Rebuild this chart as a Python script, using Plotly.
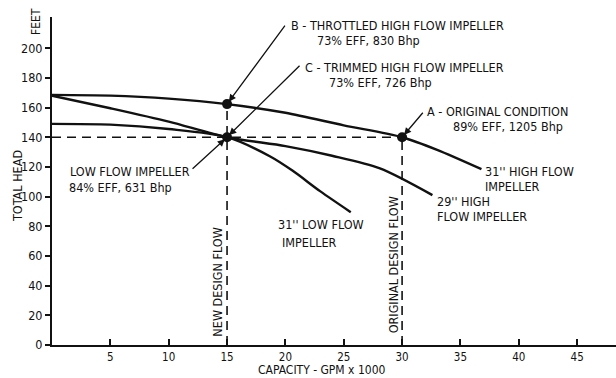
import plotly.graph_objects as go

# Pump head-capacity curves (capacity in GPM x 1000, total head in feet)
flow_31_high = [0, 5, 10, 15, 20, 25, 30, 33, 36.8]
head_31_high = [168.5, 168, 166, 162.3, 156.5, 148, 140, 131.5, 118.5]

flow_29_high = [0, 5, 10, 15, 20, 24, 28.1, 32.6]
head_29_high = [168, 159.5, 150.5, 140, 134, 127.5, 119, 101]

flow_31_low = [0, 5, 10, 15, 18.7, 20.6, 23, 25.6]
head_31_low = [149, 148.5, 145.5, 140, 127, 117.5, 103.5, 89.5]

# Operating points
point_labels = ["A", "B", "C"]
point_flow = [30, 15, 15]
point_head = [140, 162.3, 140]

x_ticks = [5, 10, 15, 20, 25, 30, 35, 40, 45]
y_ticks = [0, 20, 40, 60, 80, 100, 120, 140, 160, 180, 200]

FONT = "Liberation Sans Narrow, DejaVu Sans Condensed, Arial Narrow, sans-serif"
INK = "#111111"

fig = go.Figure()

curve_style = dict(mode="lines", line=dict(color=INK, width=2.4, shape="spline", smoothing=0.8),
                   hoverinfo="skip", showlegend=False)
fig.add_trace(go.Scatter(x=flow_31_high, y=head_31_high, **curve_style))
fig.add_trace(go.Scatter(x=flow_29_high, y=head_29_high, **curve_style))
fig.add_trace(go.Scatter(x=flow_31_low, y=head_31_low, **curve_style))

# Design-flow guide lines
pa, pb, pc = 0, 1, 2
dash_style = dict(mode="lines", line=dict(color=INK, width=1.6, dash="9px,6px"),
                  hoverinfo="skip", showlegend=False)
fig.add_trace(go.Scatter(x=[0, point_flow[pa]], y=[point_head[pa], point_head[pa]], **dash_style))
fig.add_trace(go.Scatter(x=[point_flow[pb], point_flow[pb]], y=[0, point_head[pb]], **dash_style))
fig.add_trace(go.Scatter(x=[point_flow[pa], point_flow[pa]], y=[0, point_head[pa]], **dash_style))

fig.add_trace(go.Scatter(x=point_flow, y=point_head, mode="markers", text=point_labels,
                         marker=dict(color=INK, size=10), hoverinfo="skip", showlegend=False))

def label(x, y, text, angle=0, anchor="left", size=12):
    fig.add_annotation(x=x, y=y, text=text, showarrow=False, textangle=angle,
                       xanchor=anchor, yanchor="middle",
                       font=dict(family=FONT, size=size, color=INK))

def arrow(i, ax, ay):
    fig.add_annotation(x=point_flow[i], y=point_head[i], text="", showarrow=True,
                       ax=ax, ay=ay, arrowhead=2, arrowsize=1.1, arrowwidth=1.3,
                       arrowcolor=INK, standoff=3)

label(20.3, 215.6, "B - THROTTLED HIGH FLOW IMPELLER", size=12.5)
label(22.5, 204.9, "73% EFF, 830 Bhp", size=12.5)
label(21.5, 187.3, "C - TRIMMED HIGH FLOW IMPELLER", size=12.5)
label(23.6, 177.2, "73% EFF, 726 Bhp", size=12.5)
label(32.0, 157.0, "A - ORIGINAL CONDITION", size=12.5)
label(34.2, 146.9, "89% EFF, 1205 Bhp", size=12.5)
label(1.4, 116.6, "LOW FLOW IMPELLER", size=12.5)
label(1.3, 105.8, "84% EFF, 631 Bhp", size=12.5)
label(36.9, 116.6, "31'' HIGH FLOW", size=12.5)
label(36.9, 106.5, "IMPELLER", size=12.5)
label(32.8, 97.0, "29'' HIGH", size=12.5)
label(32.8, 86.9, "FLOW IMPELLER", size=12.5)
label(19.2, 80.9, "31'' LOW FLOW", size=12.5)
label(19.5, 69.4, "IMPELLER", size=12.5)
label(14.2, 42.5, "NEW DESIGN FLOW", angle=-90, anchor="center", size=12.5)
label(29.25, 53.9, "ORIGINAL DESIGN FLOW", angle=-90, anchor="center", size=12.5)

arrow(pb, 59, -80)
arrow(pc, 74, -73)
arrow(pa, 22, -26)
arrow(pc, -36, 33)

# Axis titles
fig.add_annotation(xref="paper", yref="paper", x=(322 - 52) / 564, y=-(370 - 345) / 328,
                   text="CAPACITY - GPM x 1000", showarrow=False, xanchor="center",
                   yanchor="middle", font=dict(family=FONT, size=12, color=INK))
fig.add_annotation(xref="paper", yref="paper", x=-(52 - 17) / 564, y=(345 - 186) / 328,
                   text="TOTAL HEAD", showarrow=False, textangle=-90, xanchor="center",
                   yanchor="middle", font=dict(family=FONT, size=12.5, color=INK))
fig.add_annotation(xref="paper", yref="paper", x=-(52 - 36) / 564, y=(345 - 22) / 328,
                   text="FEET", showarrow=False, textangle=-90, xanchor="center",
                   yanchor="middle", font=dict(family=FONT, size=12, color=INK))

fig.update_xaxes(range=[0, 48.33], tickvals=x_ticks, ticktext=[str(v) for v in x_ticks],
                 ticks="inside", ticklen=6, tickwidth=1.5, tickcolor=INK,
                 showline=True, linewidth=2, linecolor=INK, showgrid=False, zeroline=False,
                 tickfont=dict(family=FONT, size=11.5, color=INK))
fig.update_yaxes(range=[0, 221], tickvals=y_ticks, ticktext=[str(v) for v in y_ticks],
                 ticks="outside", ticklen=5, tickwidth=1.5, tickcolor=INK,
                 showline=True, linewidth=2, linecolor=INK, showgrid=False, zeroline=False,
                 tickfont=dict(family=FONT, size=12.5, color=INK))

fig.update_layout(width=616, height=378, margin=dict(l=52, r=0, t=17, b=33),
                  paper_bgcolor="white", plot_bgcolor="white", showlegend=False)

fig.write_html("out.html")
